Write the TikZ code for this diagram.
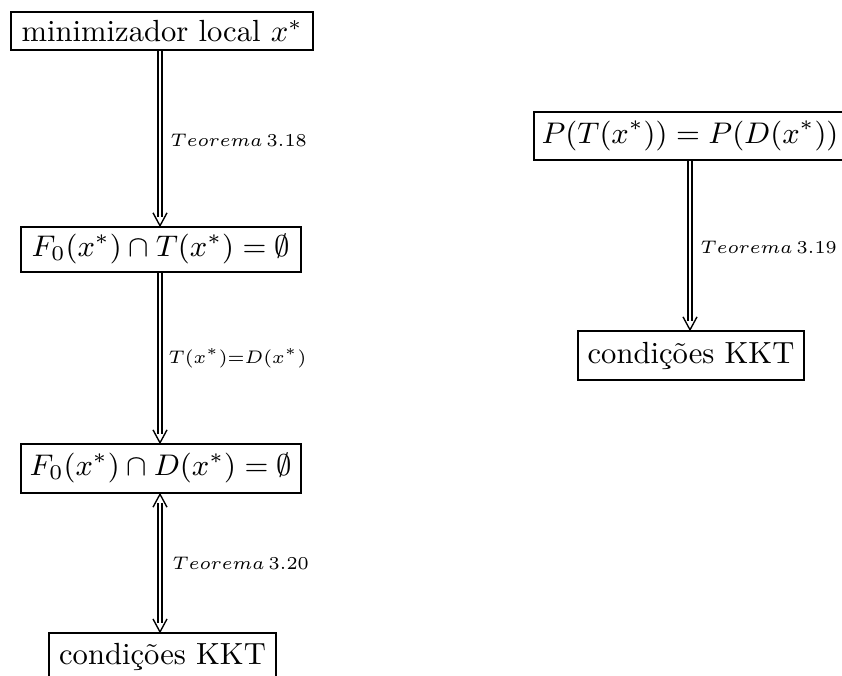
\RequirePackage{fix-cm}
\documentclass[tikz,border=0pt]{standalone}
\tikzset{
  box/.style={draw, line width=0.75pt, inner sep=0pt, align=center, font=\fontsize{10.1}{12}\selectfont},
  mbox/.style={box, font=\fontsize{9.85}{12}\selectfont},
  dbl/.style={line width=0.6pt, double, double distance=0.75pt},
  barb/.style={line width=0.45pt, line join=miter},
  lab/.style={anchor=west, inner sep=0pt, font=\fontsize{6}{8}\selectfont}
}
\begin{document}
\begin{tikzpicture}[x=0.33pt,y=-0.33pt]
\useasboundingbox (0,0) rectangle (842,675);
\node[box, minimum width=99.7pt, minimum height=12.5pt] (min) at (162,31) {minimizador local $x^*$};
\node[mbox, minimum width=92.4pt, minimum height=14.9pt] (ft) at (161,249.5) {$F_0(x^*)\cap T(x^*)=\emptyset$};
\node[mbox, minimum width=92.4pt, minimum height=16.2pt] (fd) at (161,468.5) {$F_0(x^*)\cap D(x^*)=\emptyset$};
\node[box, minimum width=74.9pt, minimum height=15.8pt] (kkt1) at (162.5,657) {condições KKT};
\node[mbox, minimum width=103pt, minimum height=15.8pt] (ptd) at (690,136) {$P(T(x^*))=P(D(x^*))$};
\node[box, minimum width=74.6pt, minimum height=16.2pt] (kkt2) at (691,355.5) {condições KKT};
% arrows
\draw[dbl, shorten >=3pt] (min.south -| 160,0) -- (ft.north -| 160,0);
\draw[barb] (ft.north -| 160,0) ++(-7,-13) -- ++(7,13) -- ++(7,-13);
\draw[dbl, shorten >=3pt] (ft.south -| 160,0) -- (fd.north -| 160,0);
\draw[barb] (fd.north -| 160,0) ++(-7,-13) -- ++(7,13) -- ++(7,-13);
\draw[dbl, shorten >=3pt, shorten <=3pt] (fd.south -| 160,0) -- (kkt1.north -| 160,0);
\draw[barb] (fd.south -| 160,0) ++(-7,13) -- ++(7,-13) -- ++(7,13);
\draw[barb] (kkt1.north -| 160,0) ++(-7,-13) -- ++(7,13) -- ++(7,-13);
\draw[dbl, shorten >=3pt] (ptd.south -| 690,0) -- (kkt2.north -| 690,0);
\draw[barb] (kkt2.north -| 690,0) ++(-7,-13) -- ++(7,13) -- ++(7,-13);
% labels
\node[lab] (l1) at (170,140) {$Teorema\,3.18$};
\node[lab] (l2) at (168,358) {$T(x^*){=}D(x^*)$};
\node[lab] (l3) at (172,563) {$Teorema\,3.20$};
\node[lab] (l4) at (700,247) {$Teorema\,3.19$};
\end{tikzpicture}
\end{document}
